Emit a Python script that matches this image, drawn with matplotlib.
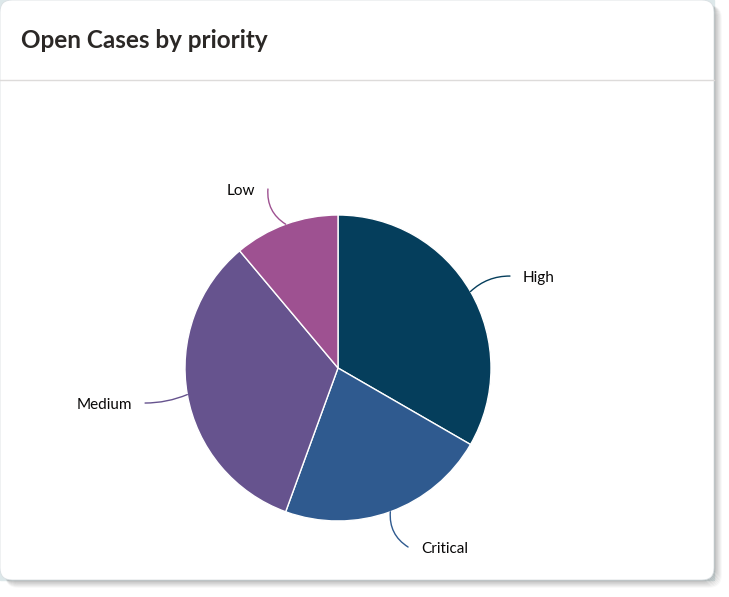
import matplotlib.pyplot as plt
from matplotlib.patches import FancyBboxPatch, Rectangle
import numpy as np

labels = ["High", "Critical", "Medium", "Low"]
counts = [3, 2, 3, 1]
colors = ["#053e5c", "#2f5a8f", "#66538e", "#9e5191"]

W, H = 729, 597
fig = plt.figure(figsize=(W / 100, H / 100), dpi=100)
fig.patch.set_facecolor("white")


def px(x, y):
    # pixel coords (top-left origin) -> figure fraction
    return x / W, 1 - y / H


# card background, shadow and rounded card
bg = fig.add_axes([0, 0, 1, 1])
bg.set_xlim(0, W)
bg.set_ylim(H, 0)
bg.axis("off")
bg.add_patch(Rectangle((0, 0), 714, 580, color="#dde8ea", zorder=0))
for i in range(8):
    a = 0.55 * (1 - i / 8)
    bg.add_patch(FancyBboxPatch((6, 6), 708 + i, 574 + i,
                                boxstyle="round,pad=0,rounding_size=12",
                                fc="none", ec=(0.35, 0.35, 0.35, a * 0.5), lw=1.2, zorder=1))
bg.add_patch(FancyBboxPatch((0, 0), 714, 580, boxstyle="round,pad=0,rounding_size=12",
                            fc="white", ec="#d9dfe2", lw=0.6, zorder=2))
bg.plot([0, 714], [80, 80], color="#dddbda", lw=1, zorder=3)
bg.text(21, 40, "Open Cases by priority", fontsize=17.5, fontweight="bold",
        family="Lato", color="#2b2826", va="center", ha="left", zorder=4)

# pie
R = 153
cx, cy = 338, 368
half_w, top, bottom = 1.6, 1.6, 1.4
l, b = px(cx - half_w * R, cy + bottom * R)
ax = fig.add_axes([l, b, 2 * half_w * R / W, (top + bottom) * R / H])

wedges, _ = ax.pie(counts, colors=colors, startangle=90, counterclock=False,
                   wedgeprops=dict(edgecolor="white", linewidth=1))
ax.set_xlim(-half_w, half_w)
ax.set_ylim(-bottom, top)
ax.set_aspect("equal")
ax.axis("off")

# leader line ends (in pie radii) and arc bend for each label
ends = [(1.124, 0.601), (0.458, -1.17), (-1.261, -0.229), (-0.458, 1.17)]
rads = [0.2, -0.3, 0.1, 0.3]
gap = 13 / R
for w, lab, col, (x1, y1), rad in zip(wedges, labels, colors, ends, rads):
    ang = np.deg2rad((w.theta1 + w.theta2) / 2)
    x0, y0 = np.cos(ang), np.sin(ang)
    ha = "left" if x0 > 0 else "right"
    tx = x1 + (gap if x0 > 0 else -gap)
    ax.annotate("", xy=(x0, y0), xytext=(x1, y1),
                arrowprops=dict(arrowstyle="-", color=col, lw=1,
                                shrinkA=0, shrinkB=0,
                                connectionstyle=f"arc3,rad={rad}"))
    ax.text(tx, y1 - 0.01, lab, ha=ha, va="center", fontsize=11, family="Lato", color="#080707")

fig.savefig("out.png", dpi=100)
